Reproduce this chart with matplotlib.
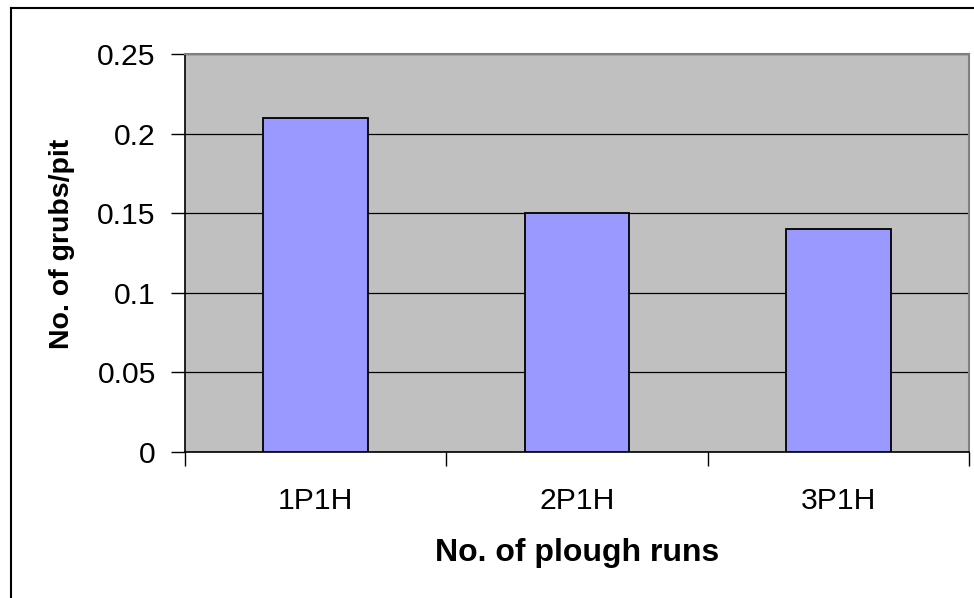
import matplotlib.pyplot as plt
from matplotlib.lines import Line2D

categories = ["1P1H", "2P1H", "3P1H"]
grubs_per_pit = [0.21, 0.15, 0.14]
y_ticks = [0, 0.05, 0.1, 0.15, 0.2, 0.25]
y_tick_labels = ["0", "0.05", "0.1", "0.15", "0.2", "0.25"]

plt.rcParams["font.family"] = ["Liberation Sans", "DejaVu Sans"]

W, H = 974, 598
fig = plt.figure(figsize=(W / 100, H / 100), dpi=100)

# plot area in pixels: left 185, right 969, top 54, bottom 452
ax = fig.add_axes([185 / W, (H - 452) / H, (969 - 185) / W, (452 - 54) / H])
ax.set_facecolor("#C0C0C0")

x = list(range(len(categories)))
ax.bar(x, grubs_per_pit, width=0.4, color="#9999FF", edgecolor="black",
       linewidth=1.3, zorder=3)

ax.set_xlim(-0.5, len(categories) - 0.5)
ax.set_ylim(0, 0.25)
ax.set_yticks(y_ticks)
ax.set_yticklabels(y_tick_labels)
ax.yaxis.grid(True, color="black", linewidth=0.9, zorder=1)
ax.set_axisbelow(True)

# category labels centred, tick marks at category boundaries
ax.set_xticks(x)
ax.set_xticklabels(categories)
ax.set_xticks([i - 0.5 for i in range(len(categories) + 1)], minor=True)
ax.tick_params(axis="x", which="major", length=0, pad=25, labelsize=21.7)
ax.tick_params(axis="x", which="minor", length=10, width=1, direction="out")
ax.tick_params(axis="y", length=10, width=1, direction="out", pad=11, labelsize=21.7)

for side in ["top", "right"]:
    ax.spines[side].set_color("#808080")
    ax.spines[side].set_linewidth(1.5)
for side in ["left", "bottom"]:
    ax.spines[side].set_color("black")
    ax.spines[side].set_linewidth(1.2)

ax.set_xlabel("No. of plough runs", fontsize=23, fontweight="bold")
ax.set_ylabel("No. of grubs/pit", fontsize=20.5, fontweight="bold")
ax.xaxis.set_label_coords(0.5, -(538 - 452) / 398)
ax.yaxis.set_label_coords(-(185 - 75) / 784, (452 - 244) / 398)

# outer chart border (top and left edges visible)
fig.add_artist(Line2D([11 / W, 1.0], [1 - 8 / H, 1 - 8 / H], color="black",
                      linewidth=1.5, transform=fig.transFigure))
fig.add_artist(Line2D([11 / W, 11 / W], [0, 1 - 8 / H], color="black",
                      linewidth=1.5, transform=fig.transFigure))

fig.savefig("out.png", dpi=100)
